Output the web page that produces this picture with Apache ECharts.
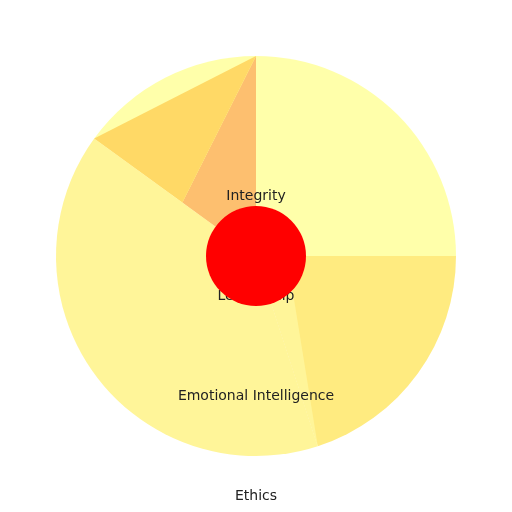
<!DOCTYPE html>
<html>
<head>
<meta charset="utf-8">
<script src="https://cdn.jsdelivr.net/npm/echarts@6/dist/echarts.min.js"></script>
<style>
  html, body { margin: 0; padding: 0; background: #fff; }
  #chart { width: 512px; height: 512px; }
</style>
</head>
<body>
<div id="chart"></div>
<script>
// ── Data ───────────────────────────────────────────────────────────────
const categories = ["Integrity", "Leadership", "Emotional Intelligence", "Ethics"];
const shares = [25, 20, 40, 15];
const sliceColors = ["#FFFFAA", "#FFEB80", "#FFF599", "#FFFFAA"];

// Inner facets drawn over the slices, vertices as [radius fraction, angle deg]
const facetNames = ["Ethics facet A", "Ethics facet B", "Leadership edge"];
const facetVertices = [
  [[0, 0], [1, 360], [0.455, 306]],
  [[1, 306], [1, 360], [0.455, 306]],
  [[0, 0], [1, 162], [0.155, 90]],
];
const facetColors = ["#FDBF6F", "#FFD966", "#FFF599"];

// Label rows under the centre
const labelRows = [196, 296, 396, 496];

// ── Chart ──────────────────────────────────────────────────────────────
const chart = echarts.init(document.getElementById("chart"));
const font = "DejaVu Sans";

chart.setOption({
  animation: false,
  polar: { center: [256, 256], radius: 200 },
  angleAxis: { type: "value", min: 0, max: 360, startAngle: 90, clockwise: true, show: false },
  radiusAxis: { type: "value", min: 0, max: 1, show: false },
  graphic: categories.map((name, i) => ({
    type: "text",
    z: 5,
    x: 256,
    y: labelRows[i],
    style: {
      text: name,
      font: `14px "${font}"`,
      fill: "#222",
      align: "center",
      verticalAlign: "middle",
    },
  })),
  series: [
    {
      type: "pie",
      z: 1,
      center: [256, 256],
      radius: [0, 200],
      startAngle: 90,
      clockwise: true,
      label: { show: false },
      labelLine: { show: false },
      emphasis: { disabled: true },
      data: categories.map((name, i) => ({
        name,
        value: shares[i],
        itemStyle: { color: sliceColors[i] },
      })),
    },
    {
      type: "custom",
      z: 2,
      coordinateSystem: "polar",
      silent: true,
      data: facetVertices.map((v, i) => ({ name: facetNames[i], value: v.flat() })),
      renderItem: (params, api) => {
        const pts = [];
        for (let k = 0; k < 3; k++) {
          pts.push(api.coord([api.value(k * 2), api.value(k * 2 + 1)]));
        }
        return {
          type: "polygon",
          shape: { points: pts },
          style: { fill: facetColors[params.dataIndex] },
        };
      },
    },
    {
      type: "pie",
      z: 10,
      center: [256, 256],
      radius: [0, 50],
      silent: true,
      label: { show: false },
      labelLine: { show: false },
      data: [{ name: "core", value: 1, itemStyle: { color: "#FF0000" } }],
    },
  ],
});
</script>
</body>
</html>
